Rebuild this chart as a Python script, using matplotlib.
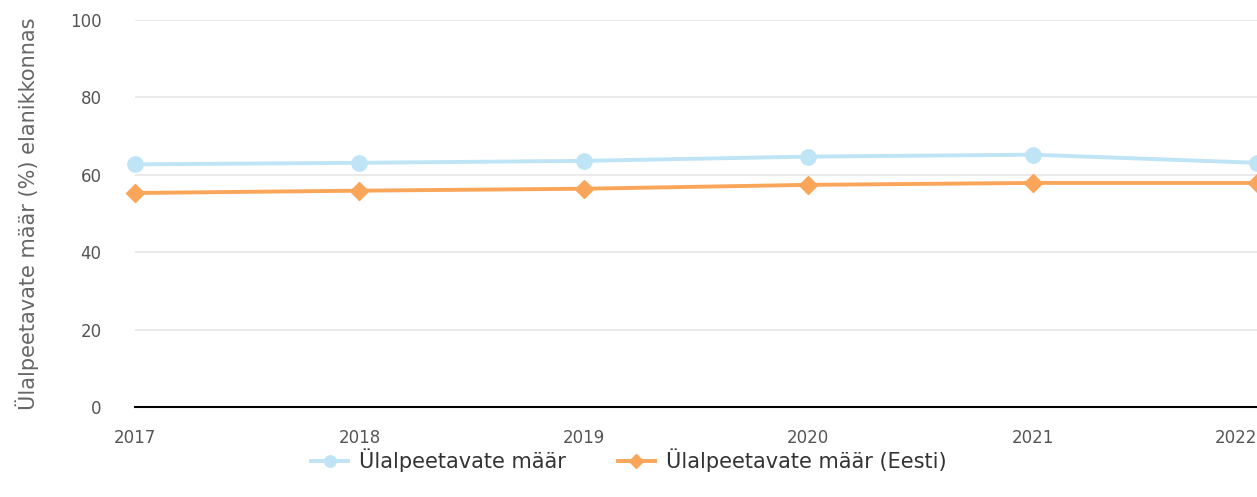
import matplotlib.pyplot as plt
from matplotlib import font_manager

years = [2017, 2018, 2019, 2020, 2021, 2022]
maar = [62.7, 63.1, 63.6, 64.7, 65.2, 63.1]
maar_eesti = [55.3, 55.9, 56.4, 57.4, 57.9, 57.9]

blue = "#bfe4f5"
orange = "#f9a65a"

fig = plt.figure(figsize=(12.57, 4.97), dpi=100)
ax = fig.add_axes([135 / 1257, 1 - 407 / 497, 1 - 135 / 1257, 387 / 497])

ax.plot(years, maar, color=blue, lw=2.8, marker="o", ms=11, label="Ülalpeetavate määr", clip_on=False, zorder=3)
ax.plot(years, maar_eesti, color=orange, lw=2.8, marker="D", ms=9, label="Ülalpeetavate määr (Eesti)", clip_on=False, zorder=3)

ax.set_xlim(2017, 2022)
ax.set_ylim(0, 100)
ax.set_yticks([0, 20, 40, 60, 80, 100])
ax.set_xticks(years)
ax.grid(axis="y", color="#e6e6e6", lw=1.2)
ax.set_axisbelow(True)
for s in ["top", "right", "left"]:
    ax.spines[s].set_visible(False)
ax.spines["bottom"].set_color("black")
ax.spines["bottom"].set_linewidth(1.5)
ax.tick_params(axis="both", length=0, labelsize=12, colors="#555555")
ax.tick_params(axis="x", pad=16)
ax.tick_params(axis="y", pad=24)
ax.get_xticklabels()[-1].set_horizontalalignment("right")
ax.get_xticklabels()[-1].set_x(2022)
ax.set_ylabel("Ülalpeetavate määr (%) elanikkonnas", fontsize=15, color="#666666", labelpad=22)

names = [f.name for f in font_manager.fontManager.ttflist]
lfam = "Liberation Sans Narrow" if "Liberation Sans Narrow" in names else "DejaVu Sans"
leg = fig.legend(loc="center", bbox_to_anchor=(0.5, 1 - 460 / 497), ncol=2, frameon=False,
                 prop={"family": lfam, "size": 15}, handlelength=1.8, columnspacing=2.5,
                 handletextpad=0.5, markerscale=0.75)
for t in leg.get_texts():
    t.set_color("#333333")

fig.savefig("out.png", dpi=100)
